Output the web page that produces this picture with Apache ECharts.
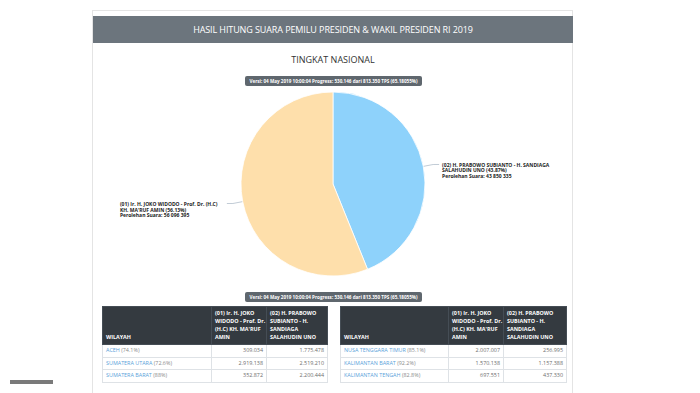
<!DOCTYPE html>
<html>
<head>
<meta charset="utf-8">
<script src="https://cdn.jsdelivr.net/npm/echarts@6/dist/echarts.min.js"></script>
<style>
  html, body { margin:0; padding:0; background:#fff; width:700px; height:393px; overflow:hidden; font-family:"Open Sans", "DejaVu Sans", sans-serif; }
  #panel { position:absolute; left:92px; top:10px; width:481px; height:400px; border:1px solid #e4e4e4; box-sizing:border-box; }
  #head { position:absolute; left:93px; top:16px; width:480px; height:27px; background:#6c757d; color:#fff; font-size:9px; line-height:27px; text-align:center; letter-spacing:-0.1px; }
  .badge { position:absolute; left:245px; width:177px; height:10px; background:#5f676e; color:#fff; border-radius:2px; font-size:4.6px; line-height:10px; text-align:center; font-weight:bold; white-space:nowrap; }
  #chart { position:absolute; left:93px; top:44px; width:480px; height:245px; }
  table { position:absolute; top:306px; border-collapse:collapse; table-layout:fixed; font-size:5.4px; }
  th { background:#343a40; color:#fff; font-weight:bold; text-align:left; vertical-align:bottom; padding:2px 2px 3px 3px; line-height:8px; border:1px solid #454d55; white-space:nowrap; overflow:visible; }
  td { border:1px solid #dee2e6; height:11.5px; padding:0 3px; color:#6c6c6c; line-height:11px; white-space:nowrap; }
  td.num { text-align:right; }
  td a { color:#5aa2da; text-decoration:none; }
  td span { color:#8a8a8a; }
  #bar { position:absolute; left:10px; top:380px; width:43px; height:4px; background:#7a7a7a; }
</style>
</head>
<body>
<div id="panel"></div>
<div id="head">HASIL HITUNG SUARA PEMILU PRESIDEN &amp; WAKIL PRESIDEN RI 2019</div>
<div id="chart"></div>
<div class="badge" id="badge1" style="top:76px;"></div>
<div class="badge" id="badge2" style="top:292px;"></div>
<table id="tleft" style="left:102px; width:225px;"></table>
<table id="tright" style="left:340px; width:226px;"></table>
<div id="bar"></div>
<script>
// ---- data ----
const chartTitle = 'TINGKAT NASIONAL';
const versionText = 'Versi: 04 May 2019 10:00:04 Progress: 530.146 dari 813.350 TPS (65.18055%)';
const candidateLine1 = ['(02) H. PRABOWO SUBIANTO - H. SANDIAGA', '(01) Ir. H. JOKO WIDODO - Prof. Dr. (H.C)'];
const candidateLine2 = ['SALAHUDIN UNO', 'KH. MA\'RUF AMIN'];
const candidateVotes = [43850335, 56096395];
const candidateColors = ['#8ed2fb', '#fedfab'];

const headerCols = ['WILAYAH', '(01) Ir. H. JOKO<br>WIDODO - Prof. Dr.<br>(H.C) KH. MA\'RUF<br>AMIN', '(02) H. PRABOWO<br>SUBIANTO - H.<br>SANDIAGA<br>SALAHUDIN UNO'];
const leftRegions = ['ACEH', 'SUMATERA UTARA', 'SUMATERA BARAT'];
const leftProgress = ['74.1%', '72.6%', '88%'];
const leftVotes01 = [309034, 2919138, 352872];
const leftVotes02 = [1775478, 2519210, 2200444];
const rightRegions = ['NUSA TENGGARA TIMUR', 'KALIMANTAN BARAT', 'KALIMANTAN TENGAH'];
const rightProgress = ['85.1%', '92.2%', '82.8%'];
const rightVotes01 = [2007007, 1570138, 697551];
const rightVotes02 = [256995, 1157388, 437330];

// ---- page text ----
document.getElementById('badge1').textContent = versionText;
document.getElementById('badge2').textContent = versionText;

function fmtDot(n) { return String(n).replace(/\B(?=(\d{3})+(?!\d))/g, '.'); }
function fmtSpace(n) { return String(n).replace(/\B(?=(\d{3})+(?!\d))/g, ' '); }

function buildTable(id, regions, prog, v1, v2, widths) {
  let h = '<colgroup>' + widths.map(w => '<col style="width:' + w + 'px">').join('') + '</colgroup>';
  h += '<tr style="height:36px">' + headerCols.map(c => '<th>' + c + '</th>').join('') + '</tr>';
  for (let i = 0; i < regions.length; i++) {
    h += '<tr><td><a>' + regions[i] + '</a> <span>(' + prog[i] + ')</span></td><td class="num">' + fmtDot(v1[i]) + '</td><td class="num">' + fmtDot(v2[i]) + '</td></tr>';
  }
  document.getElementById(id).innerHTML = h;
}
buildTable('tleft', leftRegions, leftProgress, leftVotes01, leftVotes02, [109, 55, 61]);
buildTable('tright', rightRegions, rightProgress, rightVotes01, rightVotes02, [108, 55, 63]);

// ---- chart ----
const total = candidateVotes.reduce((a, b) => a + b, 0);
const pieData = candidateVotes.map((v, i) => ({
  value: v,
  name: candidateLine1[i] + ' ' + candidateLine2[i],
  itemStyle: { color: candidateColors[i] },
  l1: candidateLine1[i], l2: candidateLine2[i]
}));

const chart = echarts.init(document.getElementById('chart'), null, { renderer: 'svg' });
chart.setOption({
  animation: false,
  title: {
    text: chartTitle, left: 'center', top: 6,
    textStyle: { fontSize: 9, fontWeight: 'normal', color: '#333', fontFamily: 'Open Sans' }
  },
  series: [{
    type: 'pie',
    center: [240, 140],
    radius: 92,
    startAngle: 90,
    clockwise: true,
    data: pieData,
    itemStyle: { borderColor: '#fff', borderWidth: 0.8 },
    label: {
      show: true,
      position: 'outside',
      distanceToLabelLine: 3,
      padding: [12, 0, 0, 0],
      formatter: function (p) {
        const pct = (p.value / total * 100).toFixed(2);
        return '{t|' + p.data.l1 + '}\n{t|' + p.data.l2 + ' (' + pct + '%)}\n{t|Perolehan Suara: ' + fmtSpace(p.value) + '}';
      },
      rich: {
        t: { fontSize: 5, lineHeight: 5.2, fontWeight: 'bold', color: '#222', fontFamily: 'Open Sans', width: 104, align: 'left' }
      }
    },
    labelLine: { show: true, length: 10, length2: 6, lineStyle: { color: '#9ab', width: 0.6 } }
  }]
});
</script>
</body>
</html>
